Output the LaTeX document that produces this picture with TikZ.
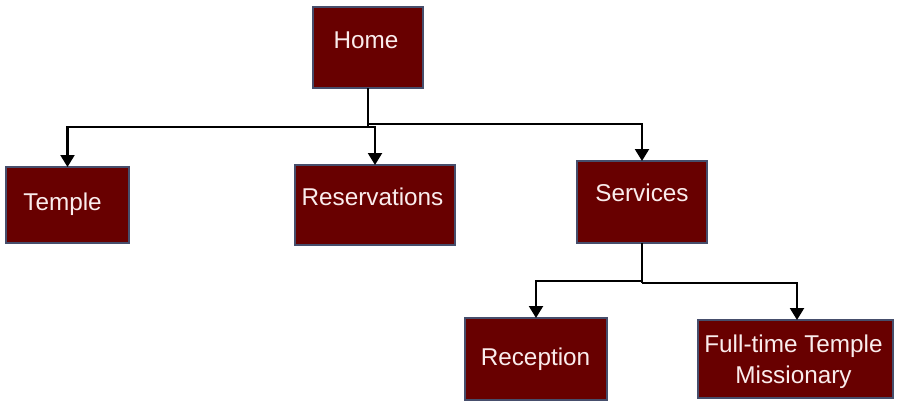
\documentclass[tikz,border=0pt]{standalone}
\usepackage{fontspec}
\setmainfont{Liberation Sans}
\usetikzlibrary{arrows.meta}
\definecolor{boxfill}{RGB}{104,0,0}
\definecolor{boxline}{RGB}{70,78,108}
\definecolor{txtcol}{RGB}{250,236,236}
\begin{document}
\begin{tikzpicture}[x=1pt,y=-1pt,
  box/.style={draw=boxline, line width=1.5pt, fill=boxfill, inner sep=0pt, outer sep=0pt},
  txt/.style={text=txtcol, inner sep=0pt, anchor=base, align=center, font=\fontsize{24.3}{31}\selectfont},
  conn/.style={draw=black, line width=2.2pt},
  arr/.style={conn, -{Triangle[width=14pt,length=12pt]}, shorten >=0pt}
]
\useasboundingbox (0,0) rectangle (900,407);
% boxes
\node[box, minimum width=110pt, minimum height=81pt] (home) at (368,47.5) {};
\node[box, minimum width=123pt, minimum height=76pt] (temple) at (67.5,205) {};
\node[box, minimum width=160pt, minimum height=80pt] (res) at (375,205) {};
\node[box, minimum width=130pt, minimum height=82pt] (serv) at (642,202) {};
\node[box, minimum width=142pt, minimum height=82pt] (rec) at (536,359) {};
\node[box, minimum width=195pt, minimum height=78pt] (full) at (795.5,359) {};
% texts
\node[txt] (homet) at (366,48) {Home};
\node[txt] (templet) at (62.5,210) {Temple};
\node[txt] (rest) at (372.5,205) {Reservations};
\node[txt] (servt) at (642,201) {Services};
\node[txt] (rect) at (535.5,365) {Reception};
\node[txt] (fullt) at (793.5,383) {Full-time Temple\\Missionary};
% connectors
\coordinate (j1) at (368,127);
\coordinate (j2) at (368,124);
\coordinate (j3) at (642,281);
\coordinate (j4) at (642,283);
\draw[conn] (home.south) -- (j1);
\draw[arr] (j1) -| (temple.north);
\draw[arr] (j1) -| (res.north);
\draw[arr] (j2) -| (serv.north);
\draw[conn] (serv.south) -- (j4);
\draw[arr] (j3) -| (rec.north);
\draw[arr] (j4) -| ([xshift=1.5pt]full.north);
\end{tikzpicture}
\end{document}
